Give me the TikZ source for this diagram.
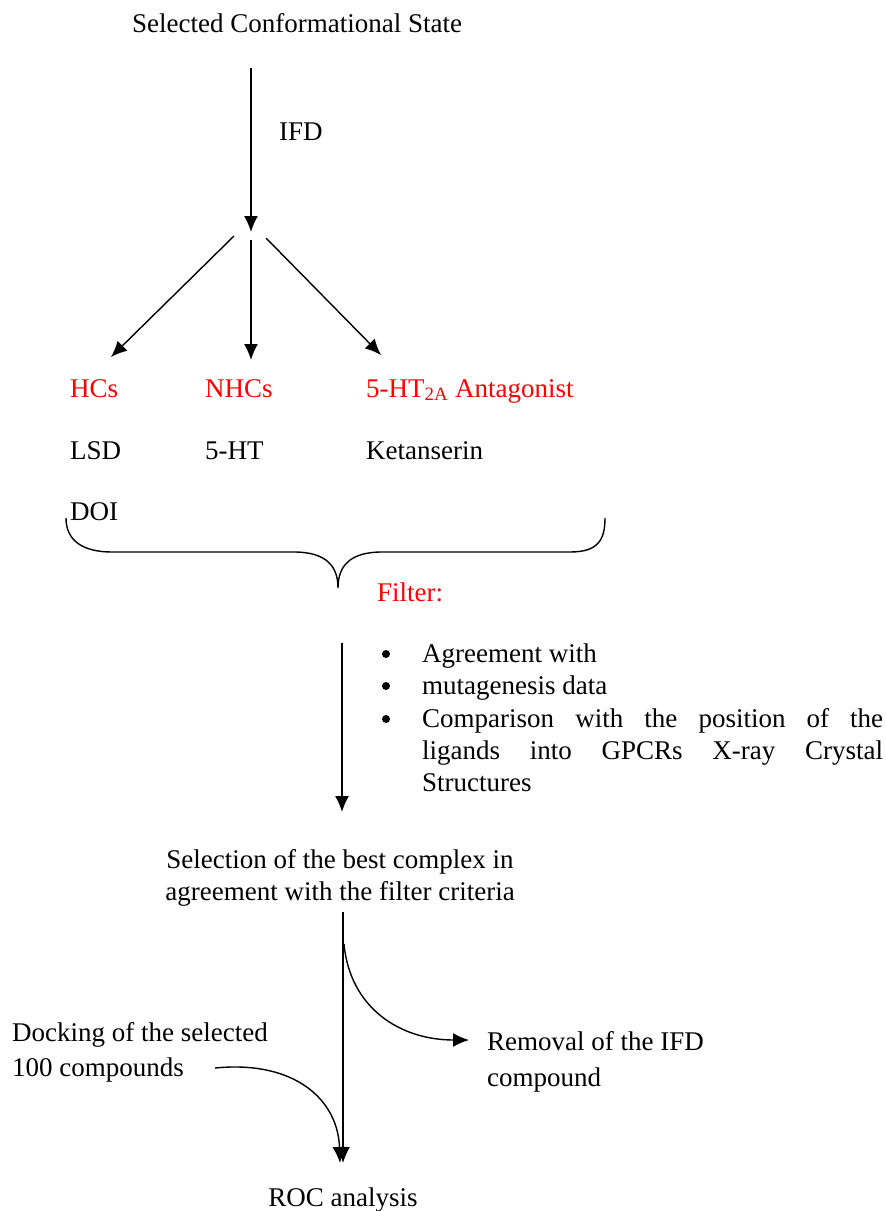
\documentclass[tikz,border=0pt]{standalone}
\usepackage{fontspec}
\setmainfont{Liberation Serif}
\usetikzlibrary{arrows.meta,positioning,calc}

\begin{document}
\begin{tikzpicture}[x=1pt, y=-1pt, every node/.style={font=\fontsize{27}{32}\selectfont, inner sep=0pt}, lbl/.style={anchor=base west}, mid/.style={anchor=base}, hit/.style={lbl, text=red}, dot/.style={circle, fill, minimum size=8pt}, flow/.style={-{Latex[length=16pt,width=14pt]}, line width=1.4pt}]
\useasboundingbox (0,0) rectangle (886,1211);
% top part
\node[mid] (state) at (297,32) {Selected Conformational State};
\node[lbl] (ifd) at (279,140) {IFD};
\coordinate (ifdtop) at (251,68);
\coordinate (ifdend) at (251,232);
\draw[flow] (ifdtop) -- (ifdend);
\coordinate (forkL) at (234,236);
\coordinate (forkM) at (251,240);
\coordinate (forkR) at (266,238);
\coordinate (tipL) at (111,357);
\coordinate (tipM) at (251,360);
\coordinate (tipR) at (381,355);
\draw[flow] (forkL) -- (tipL);
\draw[flow] (forkM) -- (tipM);
\draw[flow] (forkR) -- (tipR);
% ligand classes
\node[hit] (hcs) at (70,397) {HCs};
\node[hit] (nhcs) at (205,397) {NHCs};
\node[hit] (antag) at (366,397) {5-HT\textsubscript{2A} Antagonist};
\node[lbl] (lsd) at (70,459) {LSD};
\node[lbl] (sero) at (205,459) {5-HT};
\node[lbl] (ket) at (366,459) {Ketanserin};
\node[lbl] (doi) at (70,520) {DOI};
% brace
\draw[line width=1.4pt] (66,518) .. controls (66,540) and (82,552) .. (112,552) -- (294,552) .. controls (326,552) and (338,566) .. (338,588) .. controls (338,566) and (350,552) .. (382,552) -- (570,552) .. controls (598,552) and (605,540) .. (605,518);
\node[hit] (filter) at (377,601) {Filter:};
% criteria
\coordinate (crittop) at (342,643);
\coordinate (critend) at (342,812);
\draw[flow] (crittop) -- (critend);
\foreach \y in {654,686,719} \node[dot] at (386,\y) {};
\node[lbl] (agree) at (422,662) {Agreement with};
\node[lbl] (muta) at (422,694) {mutagenesis data};
\node[lbl, text width=461pt, align=justify] (compare) at (422,727) {Comparison with the position of the\linebreak ligands into GPCRs X-ray Crystal\linebreak Structures};
% selection and ROC
\node[mid, align=center] (select) at (340,900) {Selection of the best complex in\\agreement with the filter criteria};
\coordinate (seltop) at (343,912);
\coordinate (roctip) at (343,1163);
\draw[flow] (seltop) -- (roctip);
\coordinate (rmstart) at (344,944);
\coordinate (rmtip) at (469,1040);
\draw[flow] (rmstart) .. controls (350,1008) and (400,1040) .. (rmtip);
\node[lbl, align=left] (removal) at (487,1086) {Removal of the IFD\\[4pt]compound};
\node[lbl, align=left] (docking) at (12,1076) {Docking of the selected\\[3pt]100 compounds};
\coordinate (dkstart) at (215,1068);
\coordinate (dktip) at (340,1163);
\draw[flow] (dkstart) .. controls (295,1060) and (338,1100) .. (dktip);
\node[mid] (roc) at (343,1206) {ROC analysis};
\end{tikzpicture}
\end{document}
